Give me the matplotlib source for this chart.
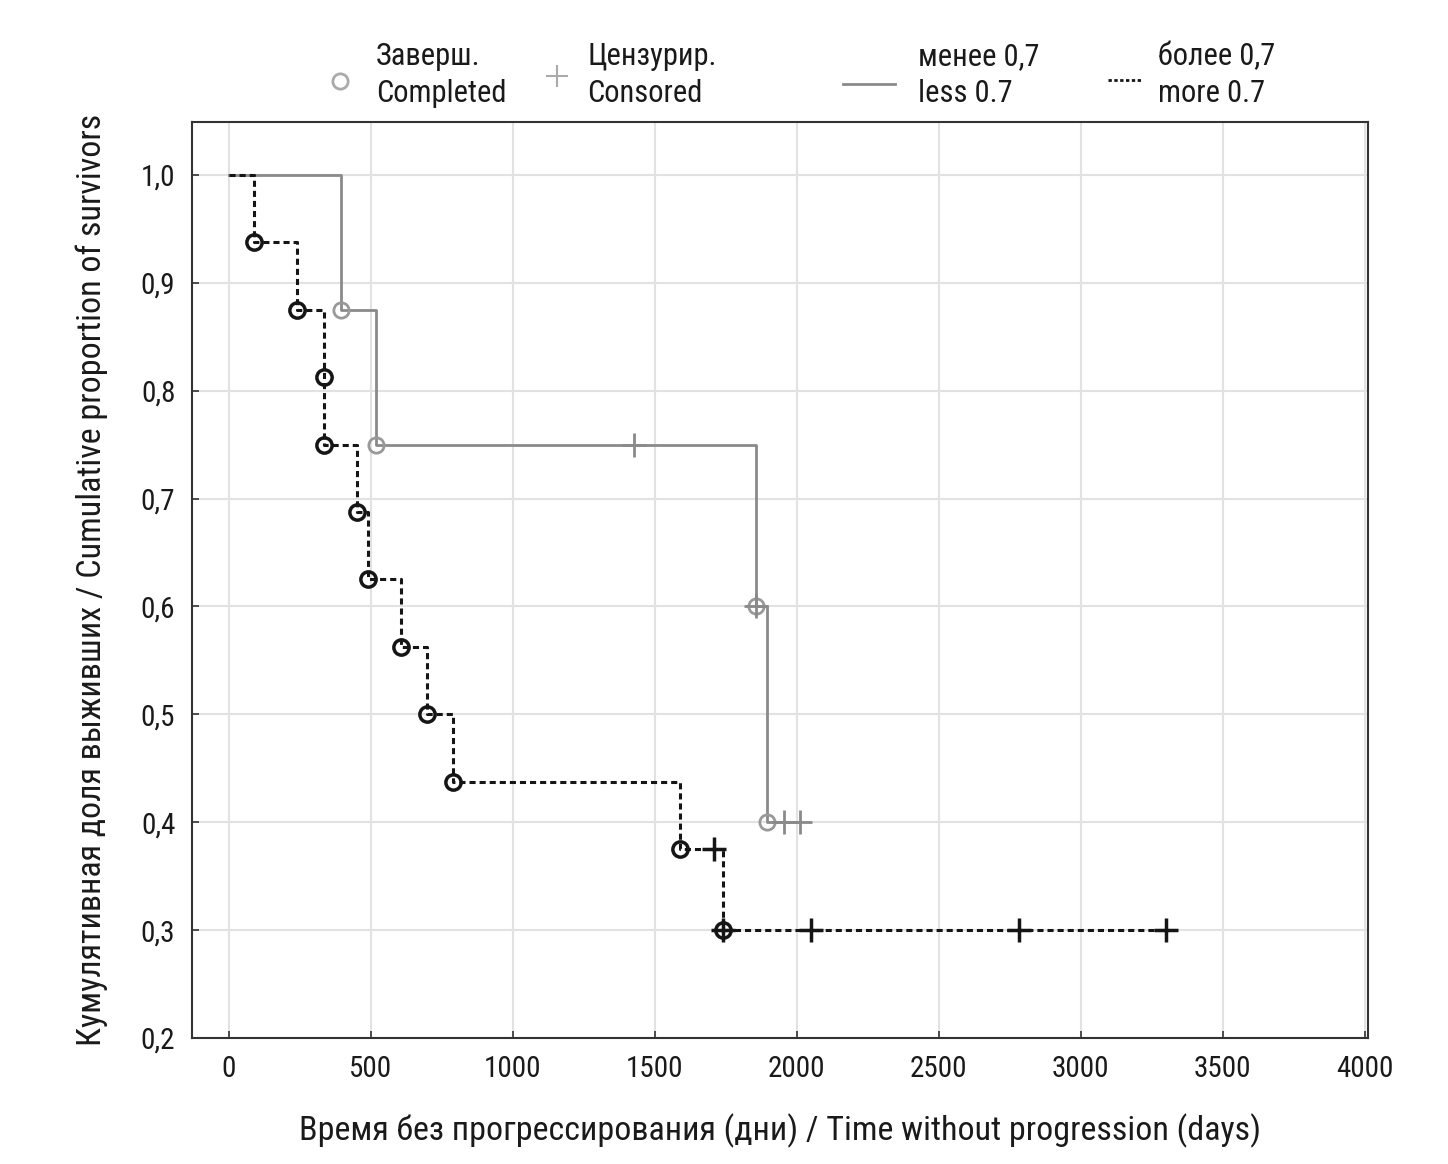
import matplotlib
matplotlib.use('Agg')
from matplotlib import pyplot as plt
from matplotlib import font_manager
from matplotlib.lines import Line2D
from matplotlib.ticker import FuncFormatter

# survival steps, group "менее 0,7 / less 0.7"
less_t = [0, 395, 518, 1857, 1896, 2012]
less_s = [1.0, 0.875, 0.75, 0.6, 0.4, 0.4]
less_event_t = [395, 518, 1857, 1896]
less_event_s = [0.875, 0.75, 0.6, 0.4]
less_cens_t = [1427, 1857, 1956, 2012]
less_cens_s = [0.75, 0.6, 0.4, 0.4]

# group "более 0,7 / more 0.7"
more_t = [0, 88, 240, 335, 451, 490, 606, 698, 789, 1589, 1741, 3302]
more_s = [1.0, 0.9375, 0.875, 0.75, 0.6875, 0.625, 0.5625, 0.5, 0.4375, 0.375, 0.3, 0.3]
more_event_t = [88, 240, 335, 335, 451, 490, 606, 698, 789, 1589, 1741]
more_event_s = [0.9375, 0.875, 0.8125, 0.75, 0.6875, 0.625, 0.5625, 0.5, 0.4375, 0.375, 0.3]
more_cens_t = [1709, 1741, 2051, 2781, 3302]
more_cens_s = [0.375, 0.3, 0.3, 0.3, 0.3]

xticks = [0, 500, 1000, 1500, 2000, 2500, 3000, 3500, 4000]
yticks = [0.2, 0.3, 0.4, 0.5, 0.6, 0.7, 0.8, 0.9, 1.0]
legend_labels = ['Заверш.\nCompleted', 'Цензурир.\nConsored', 'менее 0,7\nless 0.7', 'более 0,7\nmore 0.7']

# narrow font if there is one, else Liberation Sans
names = {f.name for f in font_manager.fontManager.ttflist}
fam = 'Liberation Sans'
for cand in ['Liberation Sans Narrow', 'Arial Narrow', 'Roboto Condensed', 'PT Sans Narrow', 'Archivo Narrow']:
    if cand in names:
        fam = cand
        break
plt.rcParams['font.family'] = [fam, 'DejaVu Sans']

gray = '#8a8a8a'
black = '#151515'
W, H = 1448, 1164

fig = plt.figure(figsize=(W / 100, H / 100), dpi=100)
ax = fig.add_axes([0.1326, 0.1082, 0.8122, 0.787])

ax.plot(less_t, less_s, drawstyle='steps-post', color=gray, lw=2)
ax.plot(more_t, more_s, drawstyle='steps-post', color=black, lw=2.2,
        linestyle=(0, (2.0, 1.3)))

ax.plot(less_event_t, less_event_s, 'o', ms=11, mfc='none', mec='#999999', mew=2)
ax.plot(less_cens_t, less_cens_s, '+', ms=17, mec=gray, mew=2)
ax.plot(more_event_t, more_event_s, 'o', ms=11, mfc='none', mec=black, mew=2.5)
ax.plot(more_cens_t, more_cens_s, '+', ms=17, mec=black, mew=2.5)

ax.set_xlim(-130, 4012)
ax.set_ylim(0.2, 1.049)
ax.set_xticks(xticks)
ax.set_yticks(yticks)
ax.yaxis.set_major_formatter(FuncFormatter(lambda v, p: f'{v:.1f}'.replace('.', ',')))
ax.grid(True, color='#e2e2e2', lw=1.5)
ax.tick_params(direction='in', length=5, width=1.2, labelsize=21, pad=12,
               colors='#333333', labelcolor='#1a1a1a')
for s in ax.spines.values():
    s.set_color('#333333')
    s.set_linewidth(1.5)

ax.set_xlabel('Время без прогрессирования (дни) / Time without progression (days)',
              fontsize=24.5, labelpad=22, color='#1a1a1a')
ax.set_ylabel('Кумулятивная доля выживших / Cumulative proportion of survivors',
              fontsize=24.5, labelpad=24, color='#1a1a1a')

# legend drawn by hand above the axes (pixel layout)
def fx(px):
    return px / W

def fy(py):
    return 1 - py / H

fig.add_artist(Line2D([fx(340)], [fy(81)], marker='o', ls='none', ms=11, mfc='none',
                      mec='#aaaaaa', mew=2, transform=fig.transFigure))
fig.add_artist(Line2D([fx(557)], [fy(76)], marker='+', ls='none', ms=16,
                      mec='#aaaaaa', mew=1.5, transform=fig.transFigure))
fig.add_artist(Line2D([fx(843), fx(895)], [fy(84), fy(84)], color=gray, lw=2,
                      transform=fig.transFigure))
fig.add_artist(Line2D([fx(1108), fx(1141)], [fy(80), fy(80)], color=black, lw=2.0,
                      ls=(0, (1.2, 0.9)), transform=fig.transFigure))
for px, lab in zip([376, 587, 918, 1158], legend_labels):
    fig.text(fx(px), fy(75), lab, fontsize=22, va='center', ha='left',
             linespacing=1.35, color='#1a1a1a')

plt.savefig('out.png', dpi=100)
